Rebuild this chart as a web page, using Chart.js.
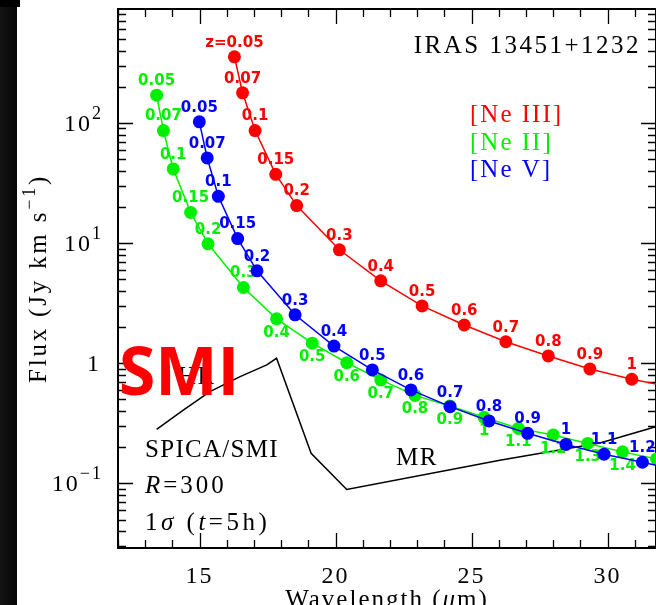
<!DOCTYPE html>
<html>
<head>
<meta charset="utf-8">
<script src="https://cdn.jsdelivr.net/npm/chart.js@4.4.1/dist/chart.umd.min.js"></script>
<style>
  html, body { margin: 0; padding: 0; background: #fff; overflow: hidden; }
  canvas { display: block; }
</style>
</head>
<body>
<canvas id="fluxChart" width="656" height="605"></canvas>
<script>
// axis ranges
const xMin = 12, xMax = 31.78;
const yMin = 0.029, yMax = 887;
const xTickLabels = [15, 20, 25, 30];
const yDecades = [-1, 0, 1, 2];

// [Ne III]
const neIIIWave = [16.28, 16.58, 17.04, 17.80, 18.57, 20.14, 21.66, 23.18, 24.73, 26.26, 27.82, 29.35, 30.89, 32.42];
const neIIIFlux = [355, 178, 86.3, 37.3, 20.5, 8.79, 4.85, 3.0, 2.08, 1.51, 1.15, 0.897, 0.736, 0.63];
const neIIIZ = ['z=0.05', '0.07', '0.1', '0.15', '0.2', '0.3', '0.4', '0.5', '0.6', '0.7', '0.8', '0.9', '1', '1.1'];

// [Ne II]
const neIIWave = [13.42, 13.67, 14.03, 14.67, 15.31, 16.61, 17.83, 19.14, 20.41, 21.66, 22.92, 24.20, 25.46, 26.72, 28.00, 29.27, 30.55, 31.80];
const neIIFlux = [170, 86.3, 41.4, 18.0, 9.86, 4.27, 2.34, 1.47, 1.01, 0.726, 0.54, 0.44, 0.355, 0.287, 0.253, 0.215, 0.183, 0.160];
const neIIZ = ['0.05', '0.07', '0.1', '0.15', '0.2', '0.3', '0.4', '0.5', '0.6', '0.7', '0.8', '0.9', '1', '1.1', '1.2', '1.3', '1.4', '1.5'];

// [Ne V]
const neVWave = [14.99, 15.28, 15.69, 16.40, 17.11, 18.51, 19.94, 21.35, 22.77, 24.21, 25.64, 27.06, 28.47, 29.87, 31.28, 32.68];
const neVFlux = [102, 51.1, 24.5, 10.9, 5.88, 2.53, 1.39, 0.879, 0.60, 0.435, 0.331, 0.261, 0.211, 0.175, 0.150, 0.128];
const neVZ = ['0.05', '0.07', '0.1', '0.15', '0.2', '0.3', '0.4', '0.5', '0.6', '0.7', '0.8', '0.9', '1', '1.1', '1.2', '1.3'];

// SPICA/SMI 1 sigma sensitivity (HR + MR)
const smiWave = [13.42, 14.40, 15.38, 16.49, 17.47, 17.83, 19.10, 20.41, 26.04, 29.72, 31.77, 31.95];
const smiFlux = [0.282, 0.408, 0.58, 0.773, 0.968, 1.10, 0.178, 0.089, 0.156, 0.217, 0.296, 0.305];

const SERIF = '"Liberation Serif", serif';
const SANS = '"DejaVu Sans", sans-serif';
const RED = '#ff0000', GREEN = '#00f000', BLUE = '#0000ff';

function toPoints(xs, ys) {
    return xs.map((x, i) => ({ x: x, y: ys[i] }));
}

// draws a run of text pieces (for superscripts / italics)
function drawRich(ctx, parts, x, y, align, spacing) {
    ctx.textAlign = 'left';
    ctx.letterSpacing = (spacing || 0) + 'px';
    let w = 0;
    parts.forEach(p => { ctx.font = p.font; w += ctx.measureText(p.text).width; });
    let cx = align === 'right' ? x - w : align === 'center' ? x - w / 2 : x;
    parts.forEach(p => {
        ctx.font = p.font;
        ctx.fillText(p.text, cx, y - (p.rise || 0));
        cx += ctx.measureText(p.text).width;
    });
    ctx.letterSpacing = '0px';
}

const framePlugin = {
    id: 'frame',
    beforeDraw(chart) {
        const ctx = chart.ctx;
        ctx.save();
        ctx.fillStyle = '#ffffff';
        ctx.fillRect(0, 0, chart.width, chart.height);
        // dark image strip on the left
        const g = ctx.createLinearGradient(0, 0, 17, 0);
        g.addColorStop(0, '#151515');
        g.addColorStop(1, '#050505');
        ctx.fillStyle = g;
        ctx.fillRect(0, 0, 17, chart.height);
        ctx.fillStyle = '#000';
        ctx.fillRect(0, 0, 20, 7);
        ctx.restore();
    },
    beforeDatasetsDraw(chart) {
        const ctx = chart.ctx;
        const a = chart.chartArea;
        const xs = chart.scales.x, ys = chart.scales.y;
        ctx.save();
        ctx.strokeStyle = '#000';
        ctx.fillStyle = '#000';

        // box
        ctx.lineWidth = 2;
        ctx.strokeRect(a.left, a.top, a.right - a.left, a.bottom - a.top);

        // x ticks (bottom + top)
        ctx.lineWidth = 1.3;
        ctx.beginPath();
        for (let v = Math.ceil(xMin); v <= xMax; v++) {
            const px = Math.round(xs.getPixelForValue(v)) + 0.5;
            const len = v % 5 === 0 ? 15 : 8;
            ctx.moveTo(px, a.bottom); ctx.lineTo(px, a.bottom - len);
            ctx.moveTo(px, a.top); ctx.lineTo(px, a.top + len);
        }
        // y ticks (left + right)
        for (let d = -2; d <= 2; d++) {
            for (let m = 1; m <= 9; m++) {
                const v = m * Math.pow(10, d);
                if (v < yMin || v > yMax) continue;
                const py = Math.round(ys.getPixelForValue(v)) + 0.5;
                const len = m === 1 ? 15 : 8;
                ctx.moveTo(a.left, py); ctx.lineTo(a.left + len, py);
                ctx.moveTo(a.right, py); ctx.lineTo(a.right - len, py);
            }
        }
        ctx.stroke();

        // tick labels
        ctx.textBaseline = 'alphabetic';
        const tickFont = '24px ' + SERIF;
        const supFont = '18px ' + SERIF;
        xTickLabels.forEach(v => {
            drawRich(ctx, [{ text: String(v), font: tickFont }], xs.getPixelForValue(v), 583, 'center', 2);
        });
        yDecades.forEach(d => {
            const py = ys.getPixelForValue(Math.pow(10, d)) + 8;
            if (d === 0) {
                drawRich(ctx, [{ text: '1', font: tickFont }], 100, py, 'right', 1);
            } else {
                drawRich(ctx, [
                    { text: '10', font: tickFont },
                    { text: d < 0 ? '\u2212' + (-d) : String(d), font: supFont, rise: 12 }
                ], 103, py, 'right', 2);
            }
        });

        // axis titles
        const big = '25px ' + SERIF;
        const bigIt = 'italic 25px ' + SERIF;
        const cxm = (a.left + a.right) / 2;
        drawRich(ctx, [
            { text: 'Wavelength (', font: big },
            { text: '\u03bc', font: bigIt },
            { text: 'm)', font: big }
        ], cxm, 607, 'center', 2);

        ctx.save();
        ctx.translate(46, (a.top + a.bottom) / 2);
        ctx.rotate(-Math.PI / 2);
        drawRich(ctx, [
            { text: 'Flux (Jy km s', font: big },
            { text: '\u22121', font: supFont, rise: 11 },
            { text: ')', font: big }
        ], 0, 0, 'center', 2.8);
        ctx.restore();

        // annotations
        drawRich(ctx, [{ text: 'IRAS 13451+1232', font: big }], 641, 53, 'right', 2.5);
        ctx.fillStyle = RED;
        drawRich(ctx, [{ text: '[Ne III]', font: big }], 470, 122, 'left', 2);
        ctx.fillStyle = GREEN;
        drawRich(ctx, [{ text: '[Ne II]', font: big }], 470, 150, 'left', 2);
        ctx.fillStyle = BLUE;
        drawRich(ctx, [{ text: '[Ne V]', font: big }], 470, 177, 'left', 2);

        ctx.fillStyle = '#000';
        drawRich(ctx, [{ text: 'SPICA/SMI', font: big }], 145, 457, 'left', 1.3);
        drawRich(ctx, [
            { text: 'R', font: bigIt },
            { text: '=300', font: big }
        ], 145, 493, 'left', 3);
        drawRich(ctx, [
            { text: '1', font: big },
            { text: '\u03c3', font: bigIt },
            { text: ' (', font: big },
            { text: 't', font: bigIt },
            { text: '=5h)', font: big }
        ], 145, 530, 'left', 3.5);
        drawRich(ctx, [{ text: 'MR', font: big }], 396, 465, 'left', 1.5);
        drawRich(ctx, [{ text: 'HR', font: big }], 178, 384, 'left', 1.5);
        ctx.restore();
    },
    afterDatasetDraw(chart, args) {
        const ds = chart.data.datasets[args.index];
        if (!ds.zLabels) return;
        const ctx = chart.ctx;
        const a = chart.chartArea;
        const meta = chart.getDatasetMeta(args.index);
        ctx.save();
        ctx.font = 'bold 15px ' + SANS;
        ctx.fillStyle = ds.borderColor;
        ctx.textAlign = 'center';
        ctx.textBaseline = 'middle';
        meta.data.forEach((pt, i) => {
            if (pt.x > a.right || pt.x < a.left) return;
            const below = ds.belowFrom !== undefined && i >= ds.belowFrom;
            ctx.fillText(ds.zLabels[i], pt.x, pt.y + (below ? 14 : -14));
        });
        ctx.restore();
    },
    afterDraw(chart) {
        const ctx = chart.ctx;
        ctx.save();
        ctx.fillStyle = RED;
        ctx.font = 'bold 66px "Open Sans", sans-serif';
        ctx.textAlign = 'left';
        ctx.textBaseline = 'alphabetic';
        ctx.fillText('SMI', 119, 395);
        ctx.restore();
    }
};

const fluxChart = new Chart(document.getElementById('fluxChart'), {
    type: 'line',
    data: {
        datasets: [
            {
                label: 'SPICA/SMI',
                data: toPoints(smiWave, smiFlux),
                borderColor: '#000000',
                borderWidth: 1.5,
                pointRadius: 0,
                order: 10
            },
            {
                label: '[Ne III]',
                data: toPoints(neIIIWave, neIIIFlux),
                zLabels: neIIIZ,
                borderColor: RED,
                backgroundColor: RED,
                borderWidth: 1.5,
                pointRadius: 6.5,
                pointBorderWidth: 0,
                order: 3
            },
            {
                label: '[Ne II]',
                data: toPoints(neIIWave, neIIFlux),
                zLabels: neIIZ,
                belowFrom: 6,
                borderColor: GREEN,
                backgroundColor: GREEN,
                borderWidth: 1.5,
                pointRadius: 6.5,
                pointBorderWidth: 0,
                order: 2
            },
            {
                label: '[Ne V]',
                data: toPoints(neVWave, neVFlux),
                zLabels: neVZ,
                borderColor: BLUE,
                backgroundColor: BLUE,
                borderWidth: 1.5,
                pointRadius: 6.5,
                pointBorderWidth: 0,
                order: 1
            }
        ]
    },
    options: {
        responsive: false,
        animation: false,
        devicePixelRatio: 1,
        layout: { autoPadding: false, padding: { top: 9, right: 0, left: 0, bottom: 0 } },
        plugins: {
            legend: { display: false },
            tooltip: { enabled: false }
        },
        elements: { line: { tension: 0 } },
        scales: {
            x: {
                type: 'linear',
                min: xMin,
                max: xMax,
                grid: { display: false },
                border: { display: false },
                ticks: { display: false },
                afterFit: s => { s.height = 57; }
            },
            y: {
                type: 'logarithmic',
                min: yMin,
                max: yMax,
                grid: { display: false },
                border: { display: false },
                ticks: { display: false },
                afterFit: s => { s.width = 118; }
            }
        }
    },
    plugins: [framePlugin]
});
</script>
</body>
</html>
